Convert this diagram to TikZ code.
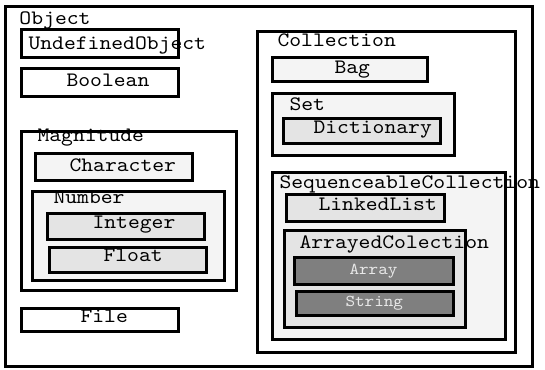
\documentclass[tikz,border=0pt]{standalone}
\usepackage{fontspec}
\usepackage{tikz}
\usetikzlibrary{fit}
\newfontfamily\monofont{lmmono10-regular}[Extension=.otf, FakeStretch=1.1]
\definecolor{lightfill}{HTML}{F4F4F4}
\definecolor{midfill}{HTML}{E4E4E4}
\definecolor{darkfill}{HTML}{7F7F7F}
\definecolor{paletext}{HTML}{E8E8E8}

\begin{document}
\begin{tikzpicture}[x=1pt, y=-1pt, line width=3pt]
      \tikzstyle{box}=[draw, rectangle, inner sep=0pt, fill=white]
      \tikzstyle{txt}=[inner sep=0pt, anchor=base west, font=\monofont\fontsize{20.5}{22}\selectfont]
      \tikzstyle{small}=[inner sep=0pt, anchor=base west, text=paletext, font=\monofont\fontsize{16.6}{18}\selectfont]
      \useasboundingbox (0,0) rectangle (545,369);

      % Object
      \node[box, fit={(5,7) (532,366)}] (Object) {};
      \node[txt] (tObject) at (18,25) {Object};
      \node[box, fit={(21,30) (178,57)}] (Undef) {};
      \node[txt] (tUndef) at (27,49) {UndefinedObject};
      \node[box, fit={(21,68) (178,96)}] (Bool) {};
      \node[txt] (tBool) at (65,86) {Boolean};

      % Magnitude
      \node[box, fit={(21,131) (236,290)}] (Magn) {};
      \node[txt] (tMagn) at (36,141) {Magnitude};
      \node[box, fill=lightfill, fit={(35,153) (192,180)}] (Char) {};
      \node[txt] (tChar) at (68,171) {Character};
      \node[box, fill=lightfill, fit={(32,191) (224,280)}] (Num) {};
      \node[txt] (tNum) at (52,203) {Number};
      \node[box, fill=midfill, fit={(47,213) (204,239)}] (Int) {};
      \node[txt] (tInt) at (91,228) {Integer};
      \node[box, fill=midfill, fit={(49,247) (206,272)}] (Float) {};
      \node[txt] (tFloat) at (102,261) {Float};

      \node[box, fit={(21,308) (178,331)}] (File) {};
      \node[txt] (tFile) at (79,322) {File};

      % Collection
      \node[box, fit={(257,32) (515,352)}] (Coll) {};
      \node[txt] (tColl) at (276,47) {Collection};
      \node[box, fill=lightfill, fit={(272,57) (427,81)}] (Bag) {};
      \node[txt] (tBag) at (333,73) {Bag};
      \node[box, fill=lightfill, fit={(272,93) (454,155)}] (Set) {};
      \node[txt] (tSet) at (288,110) {Set};
      \node[box, fill=midfill, fit={(283,118) (440,143)}] (Dict) {};
      \node[txt] (tDict) at (312,133) {Dictionary};

      \node[box, fill=lightfill, fit={(272,172) (505,339)}] (Seq) {};
      \node[txt] (tSeq) at (278,188) {SequenceableCollection};
      \node[box, fill=midfill, fit={(286,194) (444,221)}] (Linked) {};
      \node[txt] (tLinked) at (317,210) {LinkedList};
      \node[box, fill=midfill, fit={(284,230) (465,327)}] (Arrayed) {};
      \node[txt] (tArrayed) at (298,248) {ArrayedColection};
      \node[box, fill=darkfill, fit={(294,257) (453,284)}] (Array) {};
      \node[small] (tArray) at (348,274) {Array};
      \node[box, fill=darkfill, fit={(296,291) (453,315)}] (String) {};
      \node[small] (tString) at (344,306) {String};
    \end{tikzpicture}
\end{document}
